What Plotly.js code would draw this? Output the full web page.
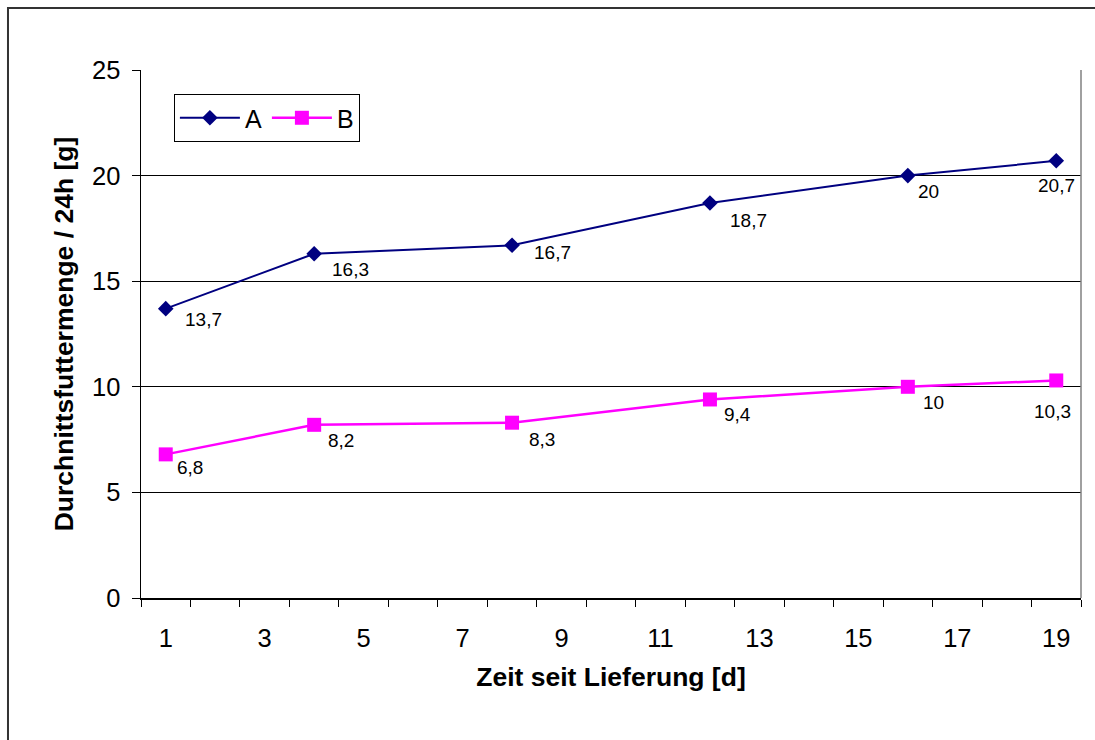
<!DOCTYPE html>
<html>
<head>
<meta charset="utf-8">
<script src="https://cdn.plot.ly/plotly-3.0.1.min.js"></script>
<style>
  html, body { margin: 0; padding: 0; background: #fff; overflow: hidden; }
  #chart { width: 1095px; height: 740px; }
</style>
</head>
<body>
<div id="chart"></div>
<script>
const days = [1, 4, 8, 12, 16, 19];
const seriesA = [13.7, 16.3, 16.7, 18.7, 20, 20.7];
const seriesB = [6.8, 8.2, 8.3, 9.4, 10, 10.3];
const xTickValues = [1, 3, 5, 7, 9, 11, 13, 15, 17, 19];
const yTickValues = [0, 5, 10, 15, 20, 25];
const seriesNames = ['A', 'B'];
const xTitle = 'Zeit seit Lieferung [d]';
const yTitle = 'Durchnittsfuttermenge / 24h [g]';

const FONT = 'Liberation Sans, Arial, sans-serif';
const fmt = v => String(v).replace('.', ',');

// label placement offsets (pixels) — styling only
const offA = [[17, 11], [16, 16], [20, 7], [18, 17], [8, 16], [-20, 25]];
const offB = [[9, 13], [12, 16], [15, 17], [12, 15], [13, 16], [-24, 31]];

const traces = [
  {
    x: days, y: seriesA, name: seriesNames[0], type: 'scatter', mode: 'lines+markers',
    line: { color: '#000080', width: 2 },
    marker: { symbol: 'diamond', size: 12, color: '#000080' },
    cliponaxis: false
  },
  {
    x: days, y: seriesB, name: seriesNames[1], type: 'scatter', mode: 'lines+markers',
    line: { color: '#FF00FF', width: 2.5 },
    marker: { symbol: 'square', size: 14, color: '#FF00FF' },
    cliponaxis: false
  }
];

function labels(xs, ys, offs) {
  return xs.map((x, i) => ({
    x: x, y: ys[i], xref: 'x', yref: 'y', text: fmt(ys[i]), showarrow: false,
    xanchor: 'left', yanchor: 'middle', xshift: offs[i][0], yshift: -offs[i][1],
    font: { family: FONT, size: 19, color: '#000' }
  }));
}

const layout = {
  width: 1095, height: 740, autosize: false,
  margin: { l: 141, r: 14, t: 70, b: 142, pad: 0 },
  paper_bgcolor: '#fff', plot_bgcolor: '#fff',
  font: { family: FONT, size: 25, color: '#000' },
  showlegend: true,
  legend: {
    orientation: 'h', x: 0.035, y: 0.9545, xanchor: 'left', yanchor: 'top',
    bgcolor: '#fff', bordercolor: '#000', borderwidth: 1,
    font: { family: FONT, size: 25, color: '#000' },
    itemwidth: 60, tracegroupgap: 0
  },
  xaxis: {
    range: [0.5, 19.5], tickmode: 'array', tickvals: xTickValues,
    ticktext: xTickValues.map(String),
    showgrid: false, zeroline: false,
    showline: true, linecolor: '#000', linewidth: 1.5,
    ticks: 'outside', ticklen: 7, tickcolor: 'rgba(0,0,0,0)',
    ticklabelstandoff: 10,
    minor: { ticks: 'outside', tick0: 0.5, dtick: 1, ticklen: 7, tickwidth: 1, tickcolor: '#000', showgrid: false },
    tickfont: { family: FONT, size: 25.5, color: '#000' },
    title: { text: xTitle, font: { family: FONT, size: 26.5, color: '#000', weight: 'bold' }, standoff: 16 },
    automargin: false, fixedrange: true
  },
  yaxis: {
    range: [0, 25], tickmode: 'array', tickvals: yTickValues,
    showgrid: true, gridcolor: '#000', gridwidth: 1,
    zeroline: false, showline: true, linecolor: '#000', linewidth: 1.5,
    ticks: 'outside', ticklen: 8, tickcolor: '#000', tickwidth: 1,
    ticklabelstandoff: 6,
    tickfont: { family: FONT, size: 25.5, color: '#000' },
    title: { text: yTitle, font: { family: FONT, size: 26.5, color: '#000', weight: 'bold' }, standoff: 11 },
    automargin: false, fixedrange: true
  },
  annotations: labels(days, seriesA, offA).concat(labels(days, seriesB, offB)),
  shapes: [
    { type: 'line', xref: 'paper', yref: 'paper', x0: 1, x1: 1, y0: 0, y1: 1,
      line: { color: '#808080', width: 1.5 } },
    { type: 'path', xref: 'paper', yref: 'paper',
      path: 'M -0.1415,-0.3 L -0.1415,1.1174 L 1.05,1.1174',
      line: { color: '#333', width: 2 } }
  ]
};

Plotly.newPlot('chart', traces, layout, { displayModeBar: false, staticPlot: true });
</script>
</body>
</html>
